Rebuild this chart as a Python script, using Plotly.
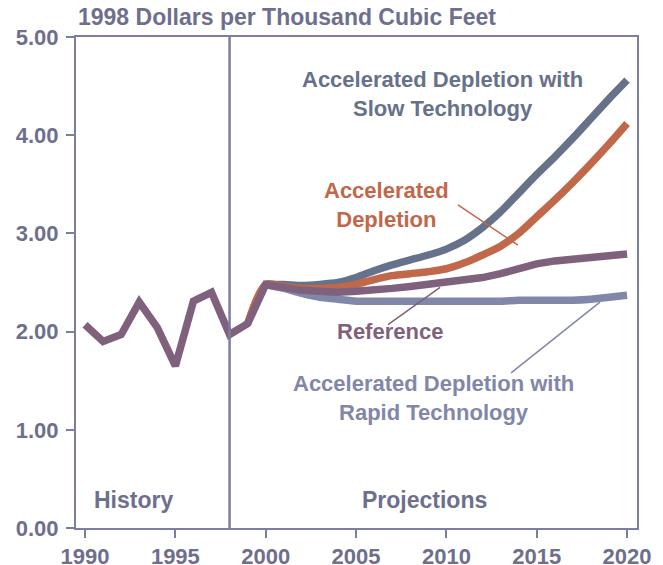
import plotly.graph_objects as go

# ---- data ----
hist_years = [1990, 1991, 1992, 1993, 1994, 1995, 1996, 1997, 1998, 1999, 2000]
hist_vals = [2.07, 1.90, 1.97, 2.30, 2.04, 1.65, 2.31, 2.40, 1.97, 2.08, 2.48]

proj_years = list(range(2000, 2021))
slow_tech = [2.48, 2.48, 2.47, 2.48, 2.50, 2.55, 2.62, 2.68, 2.73, 2.78, 2.84,
             2.93, 3.06, 3.22, 3.41, 3.60, 3.78, 3.97, 4.17, 4.37, 4.56]
accel = [2.48, 2.46, 2.44, 2.44, 2.45, 2.48, 2.53, 2.57, 2.59, 2.61, 2.64,
         2.70, 2.78, 2.87, 3.00, 3.17, 3.34, 3.52, 3.71, 3.91, 4.12]
reference = [2.48, 2.45, 2.42, 2.41, 2.40, 2.41, 2.42, 2.44, 2.46, 2.48, 2.50,
             2.52, 2.55, 2.59, 2.64, 2.69, 2.72, 2.74, 2.76, 2.78, 2.79]
rapid_tech = [2.48, 2.44, 2.39, 2.35, 2.33, 2.31, 2.31, 2.31, 2.31, 2.31, 2.31,
              2.31, 2.31, 2.31, 2.32, 2.32, 2.32, 2.32, 2.33, 2.35, 2.37]

x_ticks = [1990, 1995, 2000, 2005, 2010, 2015, 2020]
y_ticks = [0, 1, 2, 3, 4, 5]
y_tick_labels = ["0.00", "1.00", "2.00", "3.00", "4.00", "5.00"]

# ---- styles ----
C_SLOW = "#66718A"
C_ACC = "#C1684A"
C_REF = "#7F617E"
C_RAPID = "#8187A8"
C_AXIS = "#7B7E9E"
C_TEXT = "#6D6F8D"
LW = 7.5

fig = go.Figure()
fig.add_trace(go.Scatter(x=proj_years, y=slow_tech, mode="lines",
                         line=dict(color=C_SLOW, width=LW, shape="spline", smoothing=0.6)))
fig.add_trace(go.Scatter(x=[1999] + proj_years, y=[hist_vals[-2]] + accel, mode="lines",
                         line=dict(color=C_ACC, width=LW, shape="spline", smoothing=0.8)))
fig.add_trace(go.Scatter(x=proj_years, y=rapid_tech, mode="lines",
                         line=dict(color=C_RAPID, width=LW, shape="spline", smoothing=0.6)))
fig.add_trace(go.Scatter(x=hist_years + proj_years[1:], y=hist_vals + reference[1:], mode="lines",
                         line=dict(color=C_REF, width=LW)))

sans = "Liberation Sans, Arial, sans-serif"
tickfont = dict(family=sans, size=22, color=C_TEXT, weight="bold")

# page body has an 8px default margin, so the figure is 8px smaller and shifted
fig.update_layout(
    width=655, height=557,
    margin=dict(l=68, r=26, t=29, b=37),
    paper_bgcolor="white", plot_bgcolor="white",
    showlegend=False,
    xaxis=dict(range=[1989.5, 2020.55], tickvals=x_ticks, ticks="outside", ticklen=8,
               tickwidth=2, tickcolor=C_AXIS, showline=True, linecolor=C_AXIS, linewidth=2,
               mirror=True, showgrid=False, zeroline=False, automargin=False,
               tickfont=tickfont),
    yaxis=dict(range=[0, 5], tickvals=y_ticks, ticktext=y_tick_labels, ticks="outside",
               ticklen=8, tickwidth=2, tickcolor=C_AXIS, showline=True, linecolor=C_AXIS,
               linewidth=2, mirror=True, showgrid=False, zeroline=False, automargin=False,
               ticklabelstandoff=3, tickfont=tickfont),
)

fig.add_shape(type="line", x0=1998, x1=1998, y0=0, y1=5, xref="x", yref="y",
              line=dict(color=C_AXIS, width=2.5))

def ann(text, x, y, color, size=22, xanchor="center", xref="x", yref="y"):
    fig.add_annotation(text=text, x=x, y=y, xref=xref, yref=yref, showarrow=False,
                       xanchor=xanchor, yanchor="middle",
                       font=dict(family=sans, size=size, color=color, weight="bold"))

ann("1998 Dollars per Thousand Cubic Feet", 0.0, 1 + 20 / 491, C_TEXT, size=23,
    xanchor="left", xref="paper", yref="paper")
ann("Accelerated Depletion with<br>Slow Technology", 2009.8, 4.42, C_SLOW)
ann("Accelerated<br>Depletion", 2006.7, 3.29, C_ACC)
ann("Reference", 2006.9, 2.00, C_REF)
ann("Accelerated Depletion with<br>Rapid Technology", 2009.3, 1.32, C_RAPID)
ann("History", 1992.7, 0.285, C_TEXT, size=23)
ann("Projections", 2008.8, 0.285, C_TEXT, size=23)

for (x0, y0, x1, y1, c) in [(2010.64, 3.29, 2013.96, 2.88, C_ACC),
                            (2006.77, 2.07, 2009.65, 2.45, C_REF),
                            (2013.58, 1.58, 2018.5, 2.30, C_RAPID)]:
    fig.add_shape(type="line", x0=x0, y0=y0, x1=x1, y1=y1, xref="x", yref="y",
                  line=dict(color=c, width=1.5))

fig.write_html("out.html")
